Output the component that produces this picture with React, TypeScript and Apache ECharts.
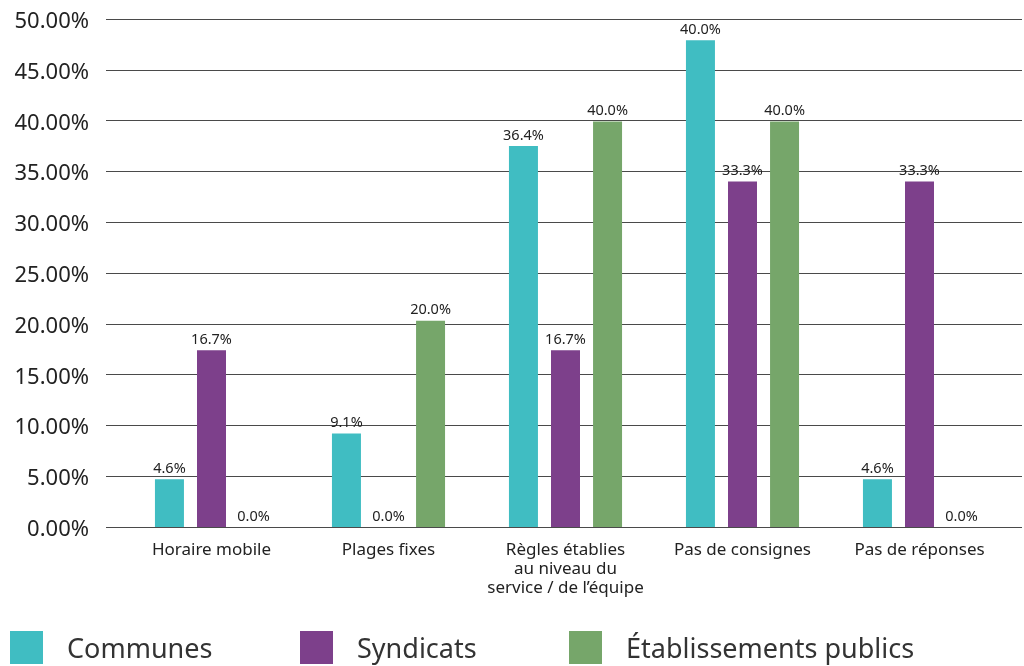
import React, { useEffect, useRef } from "react";
import * as echarts from "echarts";

const categories = [
  "Horaire mobile",
  "Plages fixes",
  "Règles établies\nau niveau du\nservice / de l’équipe",
  "Pas de consignes",
  "Pas de réponses",
];
const seriesNames = ["Communes", "Syndicats", "Établissements publics"];
// bar heights as drawn
const communes = [4.7, 9.2, 37.5, 47.9, 4.7];
const syndicats = [17.4, 0, 17.4, 34.0, 34.0];
const etablissements = [0, 20.3, 39.9, 39.9, 0];
// printed labels
const communesLabels = ["4.6%", "9.1%", "36.4%", "40.0%", "4.6%"];
const syndicatsLabels = ["16.7%", "0.0%", "16.7%", "33.3%", "33.3%"];
const etablissementsLabels = ["0.0%", "20.0%", "40.0%", "40.0%", "0.0%"];
const colors = ["#40BDC2", "#7D408B", "#76A66A"];

const FONT = "Noto Sans";

export default function App() {
  const ref = useRef<HTMLDivElement>(null);
  useEffect(() => {
    if (!ref.current) return;
    const chart = echarts.init(ref.current, null, { renderer: "svg" });
    const values = [communes, syndicats, etablissements];
    const labels = [communesLabels, syndicatsLabels, etablissementsLabels];
    const legendLefts = [10, 300, 569];
    chart.setOption({
      animation: false,
      textStyle: { fontFamily: FONT },
      grid: [
        { left: 106, right: 2, top: 19, bottom: 139 },
        { left: 123, right: 16, top: 19, bottom: 139 },
      ],
      xAxis: [
        {
          type: "category",
          gridIndex: 0,
          data: categories,
          show: false,
        },
        {
          type: "category",
          gridIndex: 1,
          data: categories,
          axisLine: { show: false },
          axisTick: { show: false },
          axisLabel: {
            interval: 0,
            margin: 12,
            fontFamily: FONT,
            fontSize: 17,
            lineHeight: 19,
            color: "#222",
          },
        },
      ],
      yAxis: [
        {
          type: "value",
          gridIndex: 0,
          min: 0,
          max: 50,
          interval: 5,
          axisLine: { show: false },
          axisTick: { show: false },
          axisLabel: {
            margin: 17,
            fontFamily: FONT,
            fontSize: 22,
            color: "#222",
            formatter: (v: number) => v.toFixed(2) + "%",
          },
          splitLine: { lineStyle: { color: "#4a4a4a", width: 1 } },
        },
        {
          type: "value",
          gridIndex: 1,
          min: 0,
          max: 50,
          interval: 5,
          show: false,
          splitLine: { show: false },
        },
      ],
      legend: seriesNames.map((n, i) => ({
        data: [n],
        left: legendLefts[i],
        top: 631,
        padding: 0,
        itemWidth: 33,
        itemHeight: 33,
        icon: "rect",
        textStyle: {
          fontFamily: FONT,
          fontSize: 27,
          color: "#333",
          padding: [0, 0, 0, 19],
        },
      })),
      series: seriesNames.map((n, i) => ({
        name: n,
        type: "bar",
        xAxisIndex: 1,
        yAxisIndex: 1,
        data: values[i],
        barWidth: 29,
        barGap: "45%",
        itemStyle: { color: colors[i] },
        label: {
          show: true,
          position: "top",
          distance: 5,
          fontFamily: FONT,
          fontSize: 14.5,
          color: "#222",
          formatter: (p: any) => labels[i][p.dataIndex],
        },
      })),
    });
    return () => chart.dispose();
  }, []);
  return (
    <div
      ref={ref}
      style={{ position: "fixed", left: 0, top: 0, width: 1024, height: 666 }}
    />
  );
}
